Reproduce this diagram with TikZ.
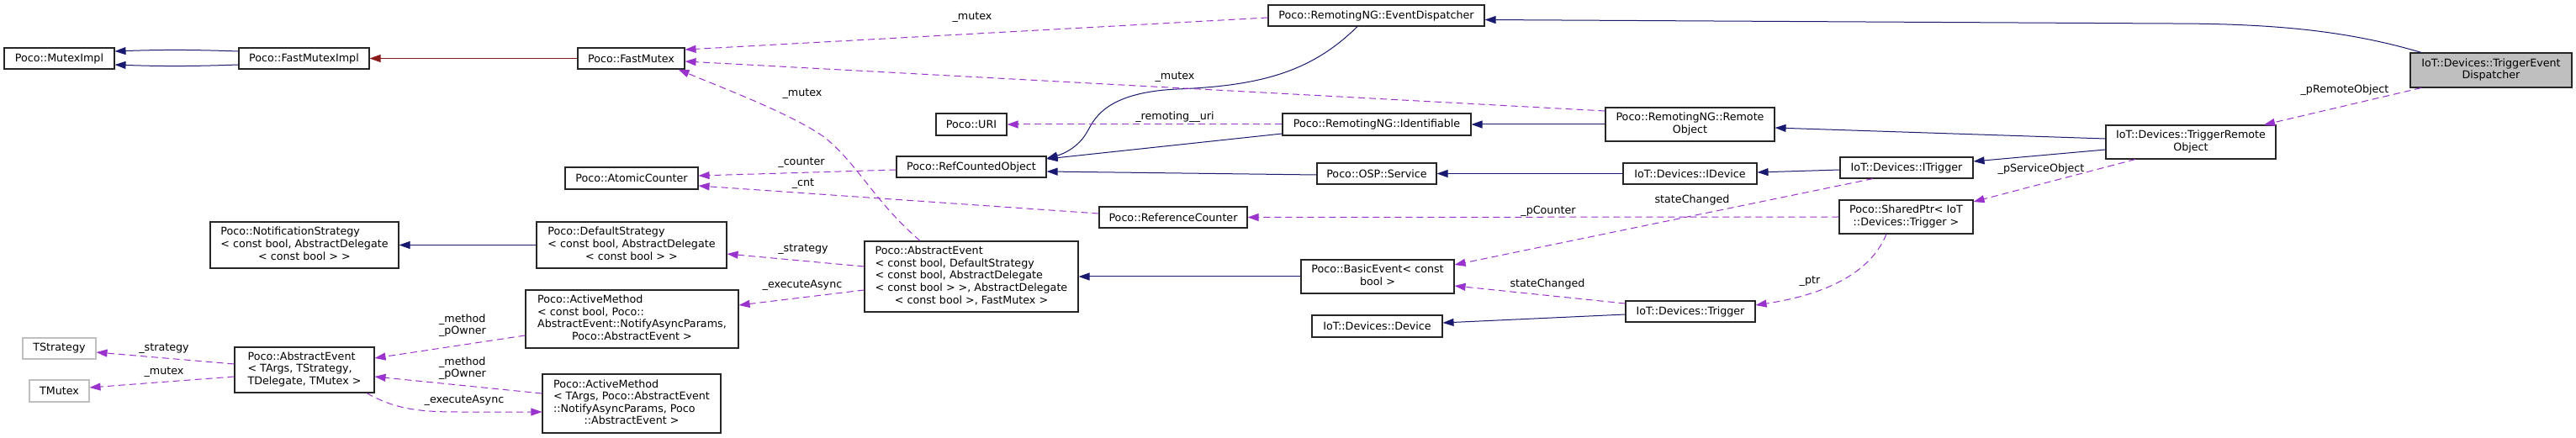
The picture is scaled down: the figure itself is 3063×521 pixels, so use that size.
\documentclass[tikz,border=0pt]{standalone}
\usepackage{fontspec}
\setmainfont{DejaVu Sans}
\usetikzlibrary{arrows.meta}
\definecolor{edgeblue}{HTML}{191970}
\definecolor{edgered}{HTML}{8B1A1A}
\definecolor{edgepurple}{HTML}{9A32CD}
\definecolor{boxgray}{HTML}{BFBFBF}
\newcommand{\dxlines}[2]{\begin{tabular}{@{}l@{}}#1\\\multicolumn{1}{@{}c@{}}{#2}\end{tabular}}
\tikzset{
  dxfont/.style={font=\fontsize{12.7}{14.6}\selectfont},
  box/.style={dxfont, draw=black!85, fill=white, line width=1.1pt, inner sep=0pt, align=center},
  graybox/.style={box, fill=boxgray},
  extbox/.style={box, draw=boxgray},
  boxw/.style={minimum width=#1},
  boxh/.style={minimum height=#1},
  lbl/.style={dxfont, inner sep=0pt, align=left},
  inh/.style={draw=edgeblue, line width=1pt, -{Triangle[length=13pt,width=9pt]}},
  priv/.style={inh, draw=edgered},
  usedby/.style={draw=edgepurple, line width=1pt, dash pattern=on 8pt off 5pt, -{Triangle[length=13pt,width=9pt]}}
}
\begin{document}
\begin{tikzpicture}[x=1pt,y=-1pt]
\fill[white] (0,0) rectangle (3063,521);
\useasboundingbox (0,0) rectangle (3063,521);

% nodes
\node[box, boxw=131pt, boxh=25pt] (mutexImpl) at (70.5,69.5) {Poco::MutexImpl};
\node[box, boxw=155pt, boxh=25pt] (fastMutexImpl) at (361.5,69.5) {Poco::FastMutexImpl};
\node[box, boxw=127pt, boxh=25pt] (fastMutex) at (750.5,69.5) {Poco::FastMutex};
\node[box, boxw=257pt, boxh=25pt] (eventDispatcher) at (1636.5,18.5) {Poco::RemotingNG::EventDispatcher};
\node[graybox, boxw=192pt, boxh=41pt] (trigEvDisp) at (2962,83.5) {\dxlines{IoT::Devices::TriggerEvent}{Dispatcher}};
\node[box, boxw=84pt, boxh=26pt] (uri) at (1155,148) {Poco::URI};
\node[box, boxw=224pt, boxh=26pt] (identifiable) at (1637,148) {Poco::RemotingNG::Identifiable};
\node[box, boxw=201pt, boxh=40pt] (remoteObject) at (2009.5,148) {\dxlines{Poco::RemotingNG::Remote}{Object}};
\node[box, boxw=202pt, boxh=40pt] (trigRemObj) at (2605,169) {\dxlines{IoT::Devices::TriggerRemote}{Object}};
\node[box, boxw=158pt, boxh=26pt] (atomicCounter) at (751,212) {Poco::AtomicCounter};
\node[box, boxw=178pt, boxh=25pt] (refCounted) at (1155,198.5) {Poco::RefCountedObject};
\node[box, boxw=142pt, boxh=25pt] (service) at (1637,206.5) {Poco::OSP::Service};
\node[box, boxw=159pt, boxh=25pt] (iDevice) at (2009.5,206.5) {IoT::Devices::IDevice};
\node[box, boxw=158pt, boxh=25pt] (iTrigger) at (2267,199.5) {IoT::Devices::ITrigger};
\node[box, boxw=176pt, boxh=25pt] (refCounter) at (1395,258.5) {Poco::ReferenceCounter};
\node[box, boxw=159pt, boxh=40pt] (sharedPtr) at (2266.5,258) {\dxlines{Poco::SharedPtr< IoT}{::Devices::Trigger >}};
\node[box, boxw=224pt, boxh=55pt] (notifStrategy) at (362,291.5) {\dxlines{Poco::NotificationStrategy\\< const bool, AbstractDelegate}{< const bool > >}};
\node[box, boxw=226pt, boxh=55pt] (defaultStrategy) at (751,291.5) {\dxlines{Poco::DefaultStrategy\\< const bool, AbstractDelegate}{< const bool > >}};
\node[box, boxw=254pt, boxh=84pt] (abstractEventCB) at (1155,329) {\dxlines{Poco::AbstractEvent\\< const bool, DefaultStrategy\\< const bool, AbstractDelegate\\< const bool > >, AbstractDelegate}{< const bool >, FastMutex >}};
\node[box, boxw=182pt, boxh=40pt] (basicEvent) at (1638,329) {\dxlines{Poco::BasicEvent< const}{bool >}};
\node[box, boxw=155pt, boxh=26pt] (device) at (1637.5,388) {IoT::Devices::Device};
\node[box, boxw=154pt, boxh=25pt] (trigger) at (2010,370.5) {IoT::Devices::Trigger};
\node[box, boxw=253pt, boxh=69pt] (activeMethodCB) at (751.5,379.5) {\dxlines{Poco::ActiveMethod\\< const bool, Poco::\\AbstractEvent::NotifyAsyncParams,}{Poco::AbstractEvent >}};
\node[extbox, boxw=87pt, boxh=25pt] (tStrategy) at (70.5,414.5) {TStrategy};
\node[extbox, boxw=71pt, boxh=26pt] (tMutex) at (70.5,465) {TMutex};
\node[box, boxw=166pt, boxh=54pt] (abstractEventT) at (362,440) {\dxlines{Poco::AbstractEvent\\< TArgs, TStrategy,}{TDelegate, TMutex >}};
\node[box, boxw=212pt, boxh=70pt] (activeMethodT) at (751,480) {\dxlines{Poco::ActiveMethod\\< TArgs, Poco::AbstractEvent\\::NotifyAsyncParams, Poco}{::AbstractEvent >}};

% inheritance edges
\draw[inh] ([yshift=8.5pt]fastMutexImpl.west) to[bend right=2] ([yshift=8.5pt]mutexImpl.east);
\draw[inh] ([yshift=-7.5pt]fastMutexImpl.west) to[bend left=2] ([yshift=-7.5pt]mutexImpl.east);
\draw[priv] (fastMutex.west) -- (fastMutexImpl.east);
\draw[inh] ([xshift=-83pt]trigEvDisp.north) .. controls (2790,36) and (2700,28) .. (2580,28) -- ([yshift=-5pt]eventDispatcher.east);
\draw[inh] ([xshift=-22.5pt]eventDispatcher.south) .. controls (1560,85) and (1500,102) .. (1400,106) .. controls (1310,110) and (1300,145) .. (1292,158) .. controls (1282,175) and (1265,183) .. ([yshift=10pt]refCounted.east);
\draw[inh] ([yshift=-11pt]identifiable.west) -- ([yshift=9.5pt]refCounted.east);
\draw[inh] ([yshift=-1.5pt]service.west) -- ([yshift=-5.5pt]refCounted.east);
\draw[inh] (remoteObject.west) -- (identifiable.east);
\draw[inh] ([yshift=4pt]trigRemObj.west) -- ([yshift=-4pt]remoteObject.east);
\draw[inh] ([yshift=-9pt]trigRemObj.west) -- ([yshift=7.5pt]iTrigger.east);
\draw[inh] ([yshift=-2.5pt]iTrigger.west) -- ([yshift=1.5pt]iDevice.east);
\draw[inh] (iDevice.west) -- (service.east);
\draw[inh] (defaultStrategy.west) -- (notifStrategy.east);
\draw[inh] (basicEvent.west) -- (abstractEventCB.east);
\draw[inh] ([yshift=-3.5pt]trigger.west) -- ([yshift=4pt]device.east);

% usage edges
\draw[usedby] ([yshift=-2.5pt]eventDispatcher.west) -- ([yshift=10.5pt]fastMutex.east);
\draw[usedby] ([yshift=16pt]remoteObject.west) -- ([yshift=-3.5pt]fastMutex.east);
\draw[usedby] ([xshift=-61pt]abstractEventCB.north) .. controls (1040,240) and (1020,195) .. (980,163) .. controls (940,135) and (860,105) .. ([xshift=56pt]fastMutex.south);
\draw[usedby] (identifiable.west) -- (uri.east);
\draw[usedby] ([yshift=-3.5pt]refCounted.west) -- ([yshift=3pt]atomicCounter.east);
\draw[usedby] ([yshift=4.5pt]refCounter.west) -- ([yshift=-9pt]atomicCounter.east);
\draw[usedby] (sharedPtr.west) -- (refCounter.east);
\draw[usedby] ([xshift=-83pt]trigEvDisp.south) -- ([xshift=87pt]trigRemObj.north);
\draw[usedby] ([xshift=-66pt]trigRemObj.south) -- ([yshift=18pt]sharedPtr.east);
\draw[usedby] ([xshift=-40pt]iTrigger.south) -- ([yshift=14pt]basicEvent.east);
\draw[usedby] ([yshift=9.5pt]trigger.west) -- ([yshift=-11pt]basicEvent.east);
\draw[usedby] ([xshift=-23.5pt]sharedPtr.south) .. controls (2222,330) and (2160,352) .. ([yshift=7.5pt]trigger.east);
\draw[usedby] ([yshift=12pt]abstractEventCB.west) -- ([yshift=-10.5pt]defaultStrategy.east);
\draw[usedby] ([yshift=-16pt]abstractEventCB.west) -- ([yshift=16.5pt]activeMethodCB.east);
\draw[usedby] ([yshift=7pt]abstractEventT.west) -- ([yshift=-4.5pt]tStrategy.east);
\draw[usedby] ([yshift=-8pt]abstractEventT.west) -- ([yshift=4pt]tMutex.east);
\draw[usedby] ([yshift=-19.5pt]activeMethodCB.west) -- ([yshift=14pt]abstractEventT.east);
\draw[usedby] ([yshift=12pt]activeMethodT.west) -- ([yshift=-8pt]abstractEventT.east);
\draw[usedby] ([xshift=74pt]abstractEventT.south) .. controls (470,487) and (500,490) .. (545,490) -- ([yshift=-10pt]activeMethodT.west);

% edge labels
\node[lbl] (lMutexA) at (1156,21) {\_mutex};
\node[lbl] (lMutexB) at (1397,92) {\_mutex};
\node[lbl] (lMutexC) at (954,112) {\_mutex};
\node[lbl] (lUri) at (1397,139) {\_remoting\_\_uri};
\node[lbl] (lCounter) at (953,194) {\_counter};
\node[lbl] (lCnt) at (955,219) {\_cnt};
\node[lbl] (lPCounter) at (1841,251) {\_pCounter};
\node[lbl] (lPRemote) at (2788,107) {\_pRemoteObject};
\node[lbl] (lPService) at (2427,201) {\_pServiceObject};
\node[lbl] (lStateA) at (2012,238) {stateChanged};
\node[lbl] (lStateB) at (1840,338) {stateChanged};
\node[lbl] (lPtr) at (2152,335) {\_ptr};
\node[lbl] (lStrategyA) at (955,297) {\_strategy};
\node[lbl] (lExecA) at (954,339) {\_executeAsync};
\node[lbl] (lStrategyB) at (195,415) {\_strategy};
\node[lbl] (lMutexD) at (195,443) {\_mutex};
\node[lbl] (lMethodA) at (550,387) {\_method\\\_pOwner};
\node[lbl] (lMethodB) at (550,438) {\_method\\\_pOwner};
\node[lbl] (lExecB) at (552,476) {\_executeAsync};
\end{tikzpicture}
\end{document}
